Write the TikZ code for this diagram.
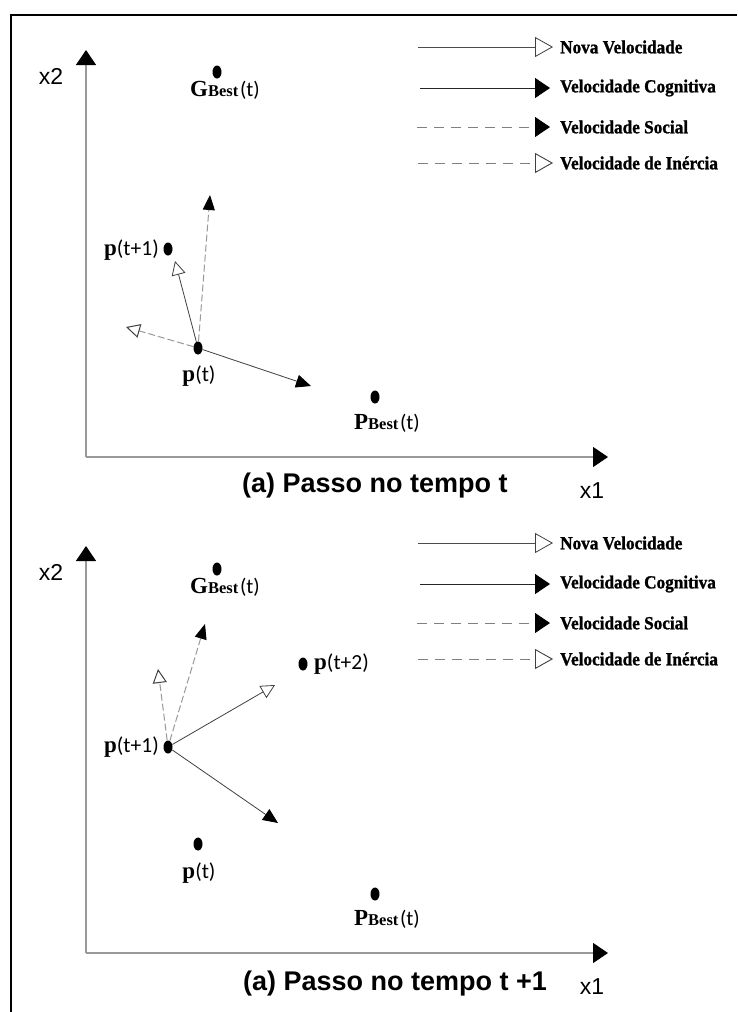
\documentclass[tikz,border=0pt]{standalone}
\usepackage{fontspec}
\setmainfont{Liberation Serif}
\newfontfamily\capfont{Liberation Sans}
\newfontfamily\lblfont{Carlito}
\newfontface\legfont{Liberation Serif Bold}[FakeBold=1.2,FakeStretch=0.93]
\usetikzlibrary{arrows.meta,shapes.geometric}
\newcommand\mylabp[1]{{\fontsize{23}{23}\selectfont\bfseries p}{\lblfont\fontsize{21.5}{23}\selectfont(#1)}}
\newcommand\mylabbest[1]{{\fontsize{23}{23}\selectfont\bfseries #1}{\fontsize{16.5}{16}\selectfont\bfseries Best}\,{\lblfont\fontsize{21}{23}\selectfont(t)}}
\tikzset{
 dot/.style={ellipse,fill=black,inner sep=0pt,minimum width=9pt,minimum height=13pt},
 lbl/.style={inner sep=0pt},
 axis/.style={draw=black!40,line width=1.2pt,-{Triangle[length=15pt,width=20pt,black]}},
 axlbl/.style={inner sep=0pt,font=\capfont\fontsize{23}{26}\selectfont},
 capt/.style={inner sep=0pt,anchor=base west,font=\capfont\bfseries\fontsize{27}{30}\selectfont},
 nova/.style={draw=black!75,line width=0.8pt,-{Triangle[open,length=14pt,width=14pt,fill=white,color=black!75]}},
 cog/.style={draw=black!75,line width=0.8pt,-{Triangle[length=15pt,width=13pt,color=black]}},
 soc/.style={draw=black!40,dash pattern=on 7pt off 3pt,line width=1pt,-{Triangle[length=15pt,width=12pt,color=black]}},
 ine/.style={draw=black!40,dash pattern=on 7pt off 3pt,line width=1pt,-{Triangle[open,length=14pt,width=14pt,fill=white,color=black!75]}},
 leg/.style={inner sep=0pt,anchor=west,font=\legfont\fontsize{18.5}{20}\selectfont},
 lnova/.style={draw=black!70,line width=0.8pt,-{Triangle[open,length=18pt,width=20pt,fill=white,color=black!75]}},
 lcog/.style={draw=black!85,line width=0.9pt,-{Triangle[length=15pt,width=20pt,color=black]}},
 lsoc/.style={draw=black!50,dash pattern=on 10pt off 7pt,line width=0.9pt,-{Triangle[length=15pt,width=20pt,color=black]}},
 line/.style={draw=black!50,dash pattern=on 10pt off 7pt,line width=0.9pt,-{Triangle[open,length=18pt,width=20pt,fill=white,color=black!75]}},
}
\begin{document}
\begin{tikzpicture}[x=1pt,y=-1pt]
\useasboundingbox (0,0) rectangle (737,1012);
\fill[white] (0,0) rectangle (737,1012);
% frame
\draw[line width=2pt] (11,1012) -- (11,15) -- (737,15);
% axes and legends
\foreach \o/\s in {0/a,496/b}{
 \coordinate (yo\s) at (86,{457+\o});
 \coordinate (yt\s) at (86,{50+\o});
 \coordinate (xt\s) at (608,{457+\o});
 \draw[axis] (yo\s) -- (yt\s);
 \draw[axis] (yo\s) -- (xt\s);
 \node[axlbl] (x2\s) at (51,{76+\o}) {x2};
 \node[axlbl] (x1\s) at (592,{491+\o}) {x1};
 \node[leg] (ln\s) at (560,{47+\o}) {Nova Velocidade};
 \node[leg] (lc\s) at (560,{88+\o}) {Velocidade Cognitiva};
 \node[leg] (ls\s) at (560,{127+\o}) {Velocidade Social};
 \node[leg] (li\s) at (560,{163+\o}) {Velocidade de Inércia};
 \coordinate (lns\s) at (418,{47+\o});
 \coordinate (lcs\s) at (420,{88+\o});
 \coordinate (lss\s) at (417,{127+\o});
 \coordinate (lis\s) at (418,{163+\o});
 \draw[lnova] (lns\s) -- ([xshift=-7pt]ln\s.west);
 \draw[lcog] (lcs\s) -- ([xshift=-10pt]lc\s.west);
 \draw[lsoc] (lss\s) -- ([xshift=-10pt]ls\s.west);
 \draw[line] (lis\s) -- ([xshift=-7pt]li\s.west);
}
% captions
\node[capt] (capA) at (242,492) {(a) Passo no tempo t};
\node[capt] (capB) at (243,990) {(a) Passo no tempo t +1};
% ---- top panel
\node[dot] (gA) at (217,72) {};
\node[dot] (p1A) at (168,249) {};
\node[dot] (p0A) at (198,348) {};
\node[dot] (pbA) at (375,397) {};
\node[lbl] (gAl) at (225,90) {\mylabbest{G}};
\node[lbl] (pbAl) at (387,423) {\mylabbest{P}};
\node[lbl] (p0Al) at (199,376) {\mylabp{t}};
\node[lbl,anchor=east] (p1Al) at (159,250) {\mylabp{t+1}};
\coordinate (socA) at (210,195);
\coordinate (novA) at (175,261);
\coordinate (ineA) at (126,327);
\coordinate (cogA) at (311,386);
\draw[soc] (p0A) -- (socA);
\draw[ine] (p0A) -- (ineA);
\draw[nova] (p0A) -- (novA);
\draw[cog] (p0A) -- (cogA);
% ---- bottom panel
\node[dot] (gB) at (217,569) {};
\node[dot] (p1B) at (168,747) {};
\node[dot] (p2B) at (303,664) {};
\node[dot] (p0B) at (198,844) {};
\node[dot] (pbB) at (375,894) {};
\node[lbl] (gBl) at (225,587) {\mylabbest{G}};
\node[lbl] (pbBl) at (387,919) {\mylabbest{P}};
\node[lbl] (p0Bl) at (199,873) {\mylabp{t}};
\node[lbl,anchor=east] (p1Bl) at (159,747) {\mylabp{t+1}};
\node[lbl,anchor=west] (p2Bl) at (314,664) {\mylabp{t+2}};
\coordinate (socB) at (205,624);
\coordinate (ineB) at (158,669);
\coordinate (novB) at (275,685);
\coordinate (cogB) at (278,823);
\draw[soc] (p1B) -- (socB);
\draw[ine] (p1B) -- (ineB);
\draw[nova] (p1B) -- (novB);
\draw[cog] (p1B) -- (cogB);
\end{tikzpicture}
\end{document}
